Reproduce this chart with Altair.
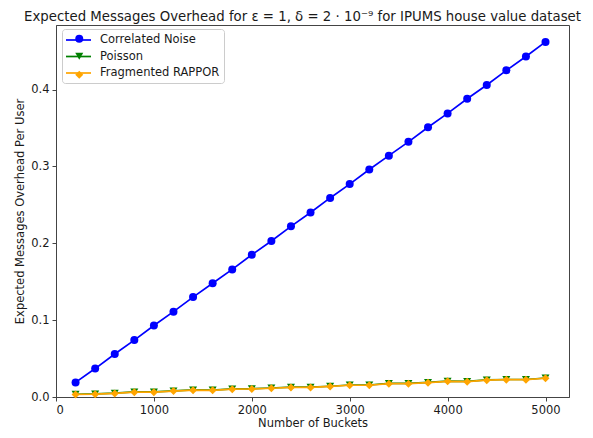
import altair as alt
import pandas as pd

buckets = [200, 400, 600, 800, 1000, 1200, 1400, 1600, 1800, 2000, 2200, 2400, 2600,
           2800, 3000, 3200, 3400, 3600, 3800, 4000, 4200, 4400, 4600, 4800, 5000]
correlated = [0.019, 0.037, 0.056, 0.074, 0.093, 0.111, 0.130, 0.148, 0.166, 0.185,
              0.203, 0.222, 0.240, 0.259, 0.277, 0.296, 0.314, 0.332, 0.351, 0.369,
              0.388, 0.406, 0.425, 0.443, 0.462]
poisson = [0.0036, 0.0040, 0.0050, 0.0066, 0.0066, 0.0080, 0.0092, 0.0090, 0.0105, 0.0107,
           0.0117, 0.0128, 0.0128, 0.0140, 0.0156, 0.0156, 0.0177, 0.0177, 0.0190, 0.0207,
           0.0203, 0.0222, 0.0228, 0.0228, 0.0247]
rappor = [0.0034, 0.0037, 0.0047, 0.0063, 0.0063, 0.0077, 0.0089, 0.0087, 0.0102, 0.0104,
          0.0114, 0.0125, 0.0125, 0.0137, 0.0153, 0.0153, 0.0174, 0.0174, 0.0187, 0.0204,
          0.0200, 0.0219, 0.0225, 0.0225, 0.0244]

series_names = ["Correlated Noise", "Poisson", "Fragmented RAPPOR"]
series_colors = ["#0000ff", "#008000", "#ffa500"]
series_shapes = ["circle", "triangle-down", "diamond"]
series_sizes = [64, 64, 95]

rows = []
for i, (name, vals) in enumerate(zip(series_names, [correlated, poisson, rappor])):
    for b, v in zip(buckets, vals):
        rows.append({"Buckets": b, "Value": v, "Series": name, "Series2": name})
df = pd.DataFrame(rows)

font = "DejaVu Sans"
lab = 11.5

x = alt.X("Buckets:Q", scale=alt.Scale(domain=[0, 5240], nice=False, zero=False),
          axis=alt.Axis(title="Number of Buckets", values=[0, 1000, 2000, 3000, 4000, 5000],
                        format="d", grid=False))
y = alt.Y("Value:Q", scale=alt.Scale(domain=[0, 0.484], nice=False),
          axis=alt.Axis(title="Expected Messages Overhead Per User",
                        values=[0.0, 0.1, 0.2, 0.3, 0.4], format=".1f", grid=False))

line_color = alt.Color("Series:N", scale=alt.Scale(domain=series_names, range=series_colors),
                       legend=alt.Legend(title=None, orient="none", legendX=6, legendY=4,
                                         strokeColor="#cccccc", cornerRadius=3, padding=4,
                                         labelFontSize=lab, labelFont=font, labelColor="#1a1a1a",
                                         symbolType="M-1.17,0H3", symbolSize=144,
                                         symbolStrokeWidth=1.7, rowPadding=3.5,
                                         labelOffset=20, zindex=1))
pt_legend = alt.Legend(title=None, orient="none", legendX=13.5, legendY=4,
                       padding=4, labelFontSize=lab, labelFont=font,
                       labelExpr="''", symbolSize=64, symbolOpacity=1,
                       rowPadding=3.5, labelOffset=20, zindex=2)
pt_color = alt.Color("Series2:N", scale=alt.Scale(domain=series_names, range=series_colors),
                     legend=pt_legend)
pt_shape = alt.Shape("Series2:N", scale=alt.Scale(domain=series_names, range=series_shapes),
                     legend=pt_legend)
pt_size = alt.Size("Series2:N", scale=alt.Scale(domain=series_names, range=series_sizes),
                   legend=None)

base = alt.Chart(df)
lines = base.mark_line(strokeWidth=1.7).encode(x=x, y=y, color=line_color,
                                               order=alt.Order("Buckets:Q"))
points = base.mark_point(filled=True, opacity=1).encode(
    x=x, y=y, color=pt_color, shape=pt_shape, size=pt_size)

chart = alt.layer(lines, points).resolve_scale(
    color="independent", shape="independent", size="independent").properties(
    width=513, height=372,
    title=alt.TitleParams("Expected Messages Overhead for ε = 1, δ = 2 · 10⁻⁹ for IPUMS house value dataset",
                          font=font, fontSize=13.3, fontWeight="normal", color="#1a1a1a",
                          offset=2, dx=-10),
    autosize=alt.AutoSizeParams(type="none"),
    padding={"left": 48, "top": 17, "right": 16, "bottom": 33},
).configure_view(stroke="#444444", strokeWidth=1).configure_axis(
    labelFont=font, titleFont=font, labelFontSize=lab, titleFontSize=lab,
    titleFontWeight="normal", labelColor="#1a1a1a", titleColor="#1a1a1a",
    domainColor="#444444", tickColor="#444444", tickSize=4, labelPadding=3,
).configure_axisX(titlePadding=2).configure_axisY(titlePadding=5)

chart.save("out.html", embed_options={"renderer": "svg", "actions": False})
